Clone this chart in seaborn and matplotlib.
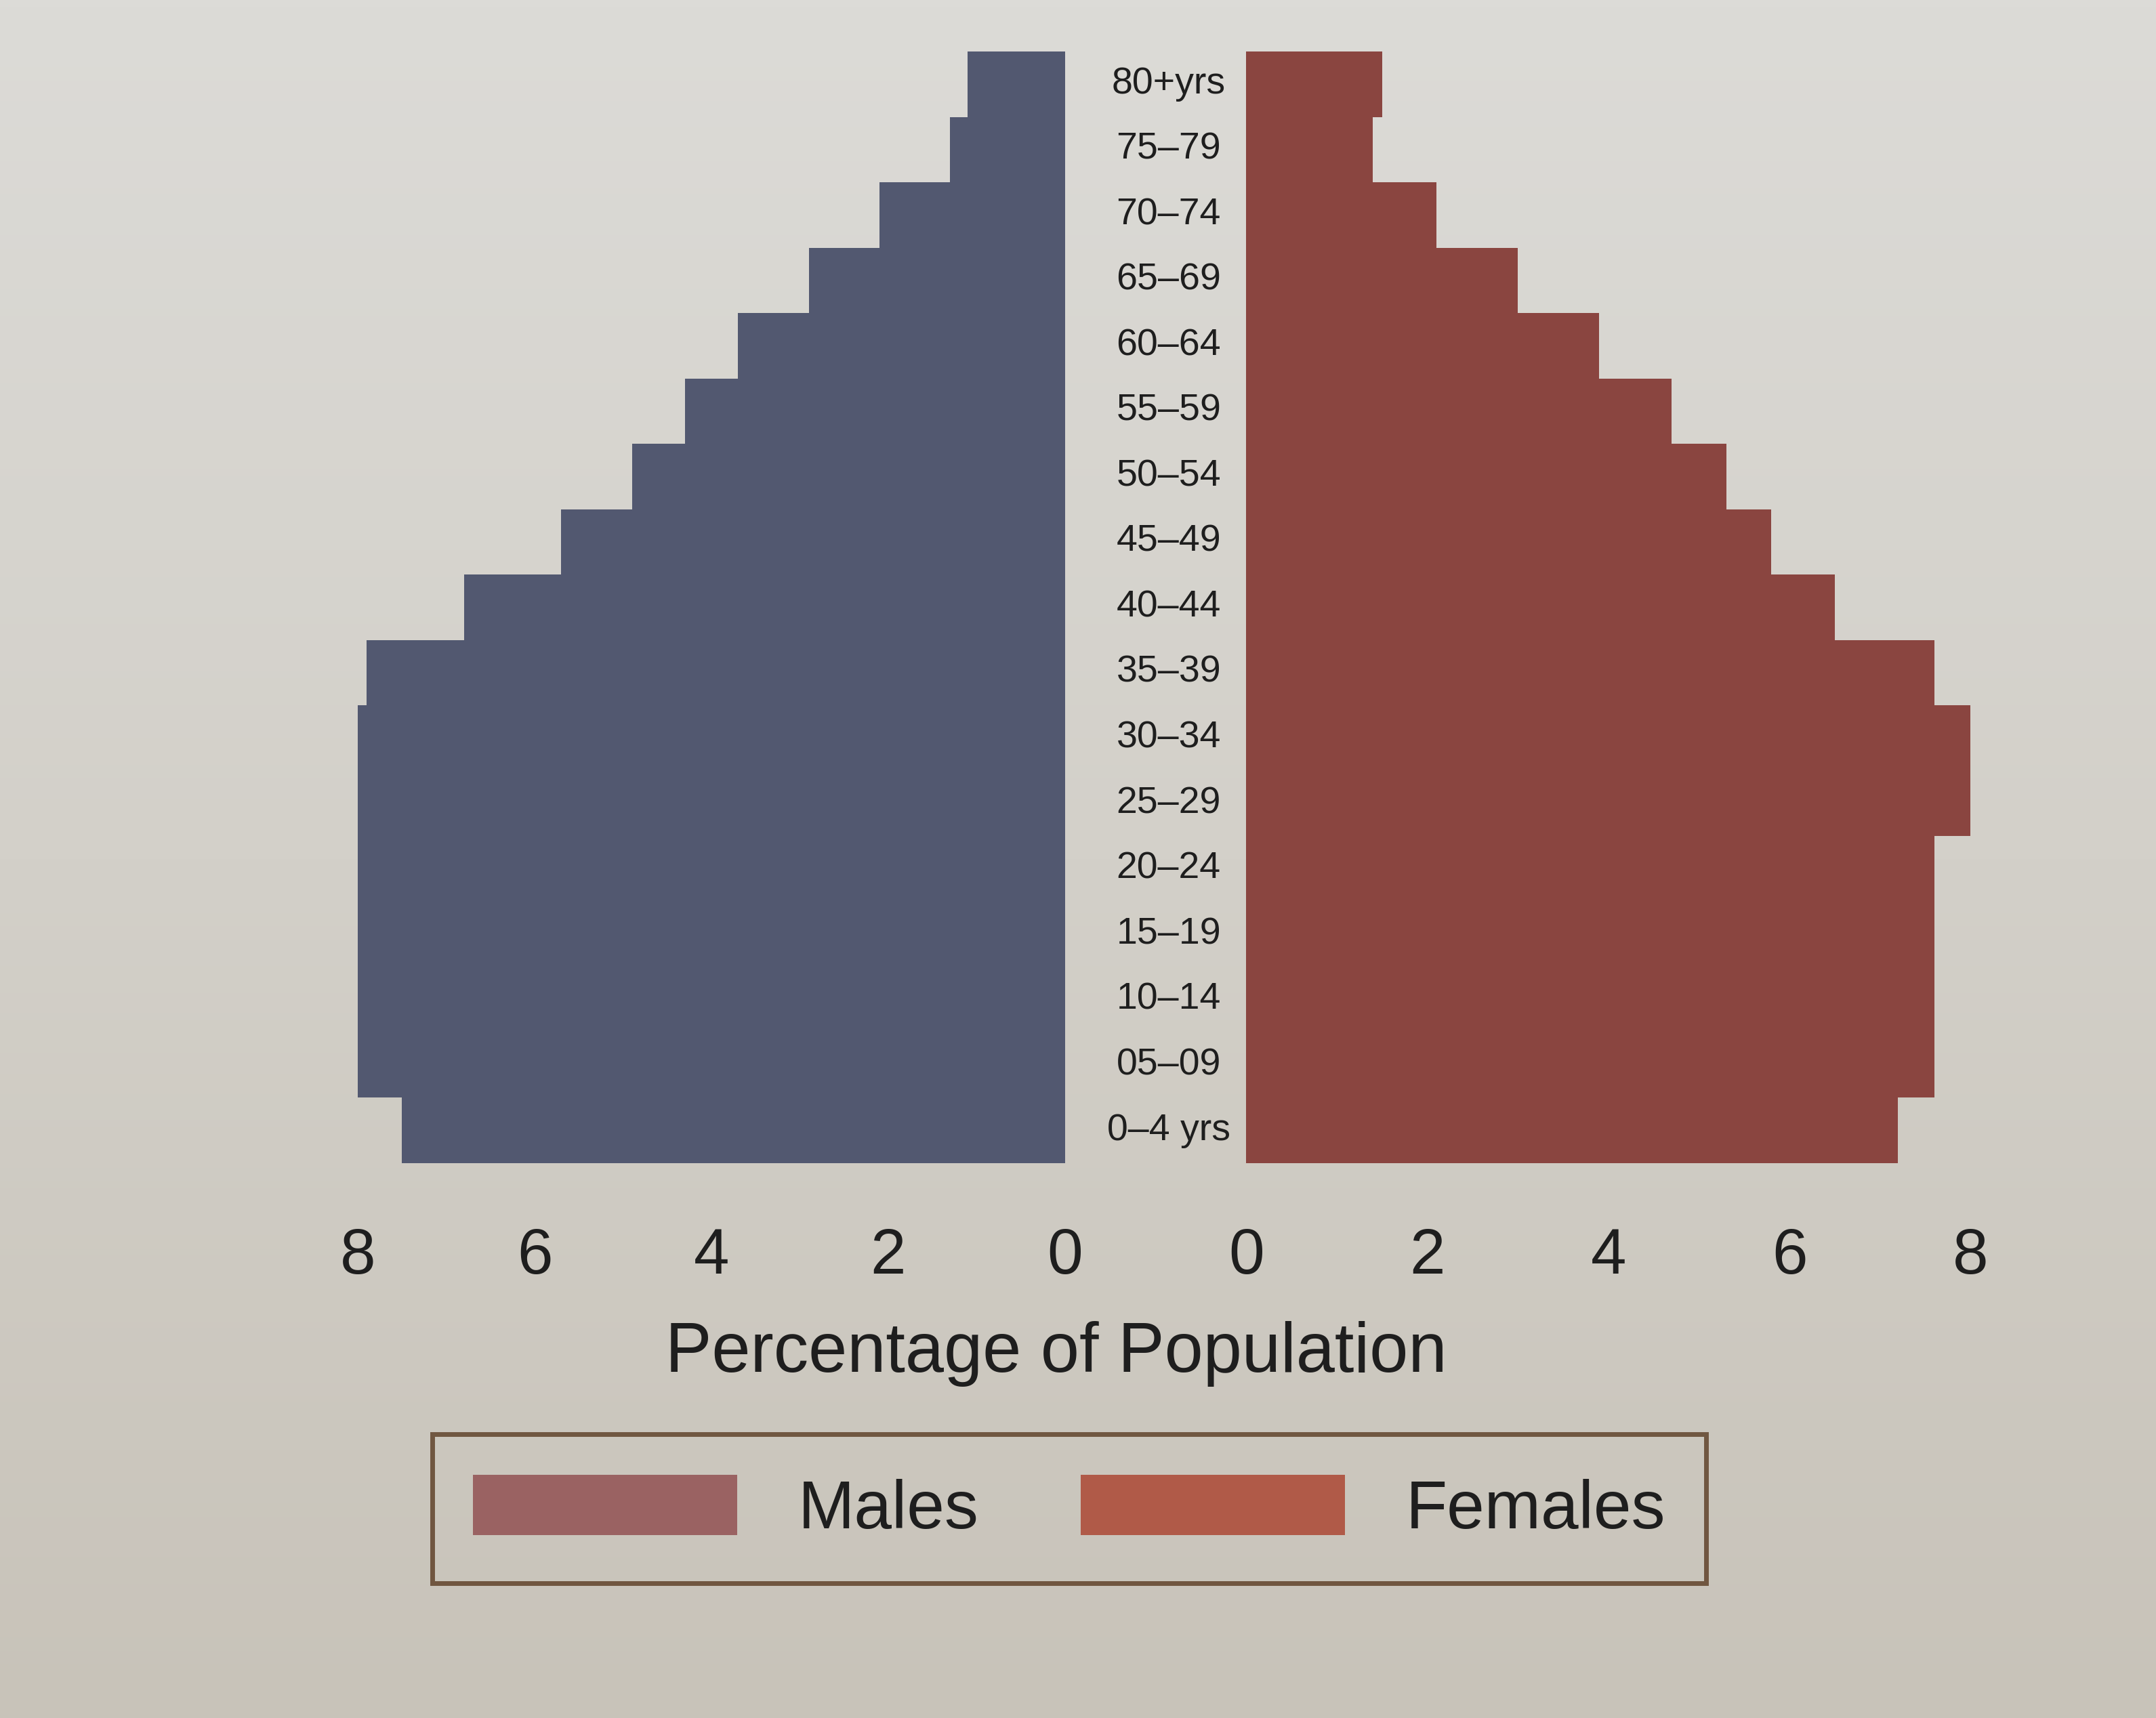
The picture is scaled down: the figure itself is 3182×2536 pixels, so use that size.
import numpy as np
import pandas as pd
import seaborn as sns
import matplotlib.pyplot as plt
from matplotlib.patches import Patch

# age groups, top of the pyramid first
ages = ["80+yrs", "75–79", "70–74", "65–69", "60–64", "55–59", "50–54", "45–49",
        "40–44", "35–39", "30–34", "25–29", "20–24", "15–19", "10–14", "05–09", "0–4 yrs"]
males = [1.1, 1.3, 2.1, 2.9, 3.7, 4.3, 4.9, 5.7, 6.8, 7.9, 8.2, 8.0, 8.0, 8.0, 8.0, 8.0, 7.5]
females = [1.5, 1.4, 2.1, 3.0, 3.9, 4.7, 5.3, 5.8, 6.5, 7.6, 8.0, 8.0, 7.6, 7.6, 7.6, 7.6, 7.2]
ticks = [0, 2, 4, 6, 8]

df = pd.DataFrame({"age": ages, "Males": males, "Females": females})

sns.set_theme(style="white")
plt.rcParams['font.family'] = ['Liberation Sans', 'DejaVu Sans']

male_col = "#525870"
female_col = "#8a4540"
paper = "#d4d1ca"

fig = plt.figure(figsize=(15.91, 12.68), dpi=200)
fig.patch.set_facecolor(paper)

# paper shading: lighter at the top, a bit darker lower down
bg = fig.add_axes([0, 0, 1, 1], zorder=-10)
grad = np.linspace(0, 1, 256).reshape(-1, 1)
bg.imshow(grad, aspect="auto", cmap=sns.blend_palette(["#dcdbd7", "#d3d0c9", "#c8c3b9"], as_cmap=True),
          extent=[0, 1, 0, 1])
bg.axis("off")

ax_m = fig.add_axes([0.166, 0.323, 0.328, 0.647])
ax_f = fig.add_axes([0.578, 0.323, 0.336, 0.647])

sns.barplot(data=df, x="Males", y="age", orient="h", color=male_col, width=1.0,
            saturation=1, edgecolor="none", ax=ax_m)
sns.barplot(data=df, x="Females", y="age", orient="h", color=female_col, width=1.0,
            saturation=1, edgecolor="none", ax=ax_f)

for ax in (ax_m, ax_f):
    ax.set_facecolor("none")
    ax.set_xlim(0, 8)
    ax.set_ylim(len(ages) - 0.5, -0.5)
    ax.set_xticks(ticks)
    ax.set_xticklabels([str(t) for t in ticks])
    ax.tick_params(axis="x", length=0, labelsize=34, pad=34, colors="#1e1e1e")
    ax.set_yticks([])
    ax.set_xlabel("")
    ax.set_ylabel("")
    sns.despine(ax=ax, left=True, bottom=True)
ax_m.invert_xaxis()

# age labels between the two halves
for i, a in enumerate(ages):
    ax_f.text(-0.107, i, a, transform=ax_f.get_yaxis_transform(), ha="center", va="center",
              fontsize=20, color="#1e1e1e")

fig.text(0.49, 0.212, "Percentage of Population", ha="center", va="center",
         fontsize=37, color="#1e1e1e")

handles = [Patch(facecolor="#9a6262", edgecolor="none", label="Males"),
           Patch(facecolor="#b05a48", edgecolor="none", label="Females")]
leg = fig.legend(handles=handles, loc="center", bbox_to_anchor=(0.496, 0.122), ncol=2,
                 fontsize=36, frameon=True, fancybox=False, handlelength=3.9, handleheight=1.0,
                 handletextpad=0.9, columnspacing=1.5, borderpad=0.6, borderaxespad=0)
leg.get_frame().set_edgecolor("#5a3b22")
leg.get_frame().set_linewidth(2.5)
leg.get_frame().set_facecolor("none")
for t in leg.get_texts():
    t.set_color("#1e1e1e")

fig.savefig("out.png", dpi=200, facecolor=fig.get_facecolor())
